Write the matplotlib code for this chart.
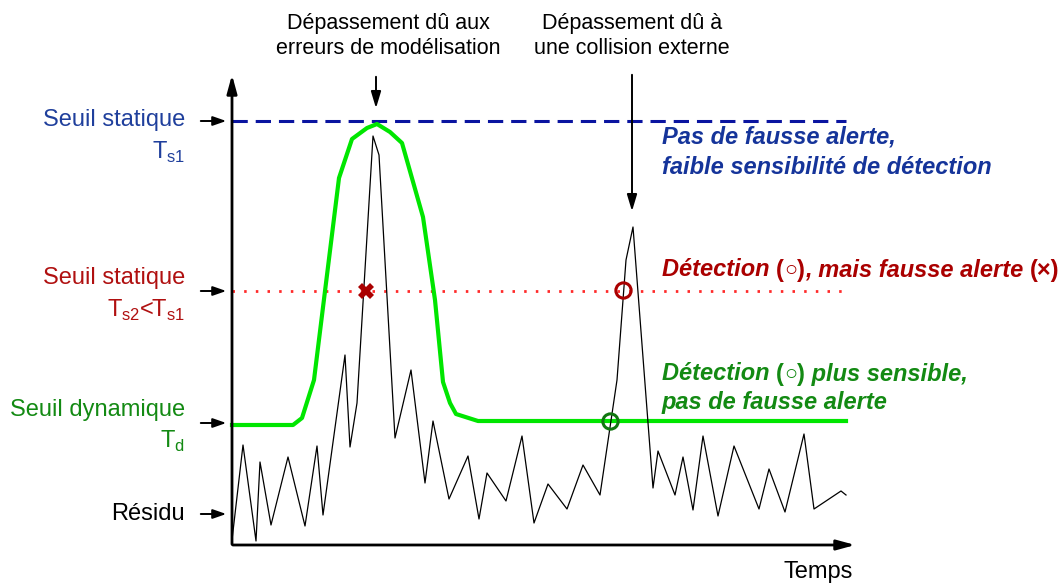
import matplotlib
matplotlib.use("Agg")
import matplotlib.pyplot as plt
from matplotlib.offsetbox import TextArea, HPacker, AnnotationBbox

plt.rcParams['font.family'] = ['Liberation Sans', 'DejaVu Sans']

# residual signal (time, level) in drawing units, y grows downward
res_t = [232, 243, 256, 260, 271, 288, 305, 317, 323, 345, 350, 357, 373, 379,
         395, 411, 425, 433, 449, 468, 479, 487, 506, 522, 534, 548, 567, 583,
         600, 617, 626, 633, 653, 658, 675, 683, 693, 703, 718, 734, 759, 769,
         785, 804, 814, 841, 846]
res_v = [540, 445, 541, 462, 525, 457, 526, 446, 515, 355, 447, 403, 136, 155,
         438, 370, 483, 421, 499, 456, 519, 473, 501, 436, 523, 484, 509, 465,
         495, 380, 260, 227, 488, 451, 495, 457, 510, 436, 516, 446, 509, 469,
         512, 434, 509, 491, 495]

# dynamic threshold
dyn_t = [232, 293, 302, 314, 339, 352, 367, 377, 390, 402, 423, 435, 443, 450,
         456, 478, 846]
dyn_v = [425, 425, 418, 380, 178, 139, 128, 124, 132, 143, 217, 300, 382, 403,
         414, 421, 421]

ts1 = 121
ts2 = 291
t_start, t_end = 232, 846

false_alarm = (366, 291)
det_static = (623, 290)
det_dynamic = (610, 421)

blue = '#0a14a0'
blue_txt = '#1f3f9c'
red = '#aa0000'
red_line = '#ff2a2a'
green = '#00e600'
green_txt = '#138a13'

fig = plt.figure(figsize=(10.61, 5.86), dpi=100)
ax = fig.add_axes([0, 0, 1, 1])
ax.set_xlim(0, 1061)
ax.set_ylim(586, 0)
ax.axis('off')

# axes with arrow heads
arr = dict(arrowstyle='-|>,head_length=1.1,head_width=0.3', color='black', lw=2)
ax.annotate('', xy=(232, 72), xytext=(232, 547), arrowprops=arr)
ax.annotate('', xy=(858, 545), xytext=(230, 545), arrowprops=arr)

# thresholds
ax.plot([t_start, t_end], [ts1, ts1], color=blue, lw=2.2, dashes=(5, 2.6))
ax.plot([t_start, t_end], [ts2, ts2], color=red_line, lw=2, dashes=(0.9, 3.3))
ax.plot(dyn_t, dyn_v, color=green, lw=3, solid_joinstyle='round')
ax.plot(res_t, res_v, color='black', lw=0.9)

# detection markers
ax.plot(*false_alarm, marker='X', color=red, ms=11, mew=0)
ax.plot(*det_static, marker='o', mfc='none', mec=red, ms=11, mew=2.2)
ax.plot(*det_dynamic, marker='o', mfc='none', mec='#117711', ms=11, mew=2.2)

# left labels with arrows
small = dict(arrowstyle='-|>,head_length=0.8,head_width=0.28', color='black', lw=1.4)
fs = 17
left = [
    (ts1, 120, 152, 'Seuil statique', 'T$_\\mathregular{s1}$', blue_txt),
    (ts2, 278, 310, 'Seuil statique', 'T$_\\mathregular{s2}$<T$_\\mathregular{s1}$', '#b01010'),
    (423, 410, 441, 'Seuil dynamique', 'T$_\\mathregular{d}$', green_txt),
]
for y, y1, y2, l1, l2, c in left:
    ax.text(185, y1, l1, ha='right', va='center', fontsize=fs, color=c)
    ax.text(185, y2, l2, ha='right', va='center', fontsize=fs, color=c)
    ax.annotate('', xy=(229, y), xytext=(198, y), arrowprops=small)
ax.text(185, 514, 'Résidu', ha='right', va='center', fontsize=fs, color='black')
ax.annotate('', xy=(229, 514), xytext=(198, 514), arrowprops=small)

ax.text(818, 572, 'Temps', ha='center', va='center', fontsize=fs)

# top annotations
ax.text(388, 36, 'Dépassement dû aux\nerreurs de modélisation', ha='center',
        va='center', fontsize=15.5, linespacing=1.2)
ax.text(632, 36, 'Dépassement dû à\nune collision externe', ha='center',
        va='center', fontsize=15.5, linespacing=1.2)
top = dict(arrowstyle='-|>,head_length=1.0,head_width=0.3', color='black', lw=1.4)
ax.annotate('', xy=(376, 111), xytext=(376, 74), arrowprops=top)
ax.annotate('', xy=(632, 214), xytext=(632, 72), arrowprops=top)


def rich(x, y, parts, color, size=17):
    # parts: (text, italic, relative size)
    boxes = []
    for s, italic, rel in parts:
        boxes.append(TextArea(s, textprops=dict(color=color, fontsize=size * rel,
                                                fontweight='bold',
                                                fontstyle='italic' if italic else 'normal')))
    pack = HPacker(children=boxes, align='baseline', pad=0, sep=0)
    ab = AnnotationBbox(pack, (x, y), xycoords='data', box_alignment=(0, 0.5),
                        frameon=False, pad=0)
    ax.add_artist(ab)


circ = [('(', False, 1), ('○', False, 0.92), (')', False, 1)]
rich(662, 137, [('Pas de fausse alerte,', True, 1)], '#15349a')
rich(662, 167, [('faible sensibilité de détection', True, 1)], '#15349a')
rich(662, 270, [('Détection ', True, 1)] + circ +
     [(', mais fausse alerte ', True, 1), ('(×)', False, 1)], red)
rich(662, 374, [('Détection ', True, 1)] + circ +
     [(' plus sensible,', True, 1)], green_txt)
rich(662, 402, [('pas de fausse alerte', True, 1)], green_txt)

fig.savefig('out.png', dpi=100)
